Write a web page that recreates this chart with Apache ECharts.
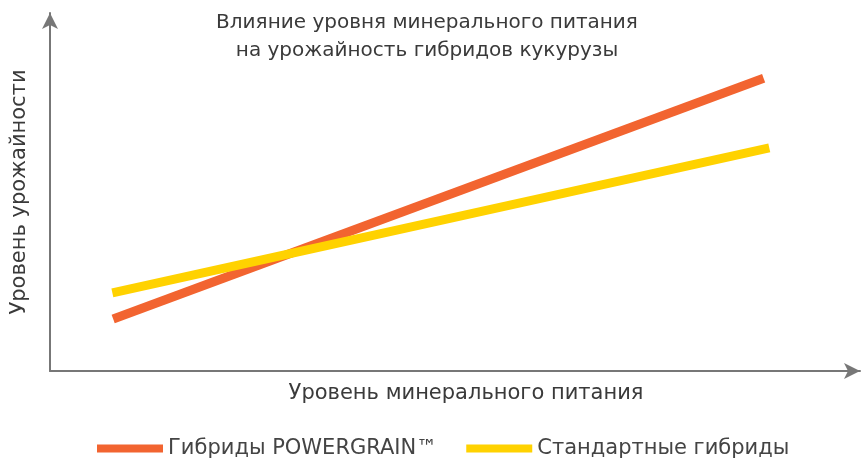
<!DOCTYPE html>
<html><head><meta charset="utf-8">
<script src="https://cdn.jsdelivr.net/npm/echarts@6/dist/echarts.min.js"></script>
<style>html,body{margin:0;padding:0;background:#fff}#c{width:863px;height:458px}</style>
</head><body><div id="c"></div>
<script>
var titleLines = ['Влияние уровня минерального питания', 'на урожайность гибридов кукурузы'];
var xName = 'Уровень минерального питания';
var yName = 'Уровень урожайности';
var seriesNames = ['Гибриды POWERGRAIN™', 'Стандартные гибриды'];
var powergrainData = [[7.8, 14.5], [88.1, 81.8]];
var standardData = [[7.7, 21.8], [88.8, 62.3]];
var colors = ['#f26430', '#ffd200'];

var font = 'DejaVu Sans, Liberation Sans, Arial, sans-serif';
var chart = echarts.init(document.getElementById('c'));
chart.setOption({
  animation: false,
  title: {
    text: titleLines.join('\n'), left: 422, top: 4, textAlign: 'center',
    textStyle: {fontFamily: font, fontSize: 20, fontWeight: 'normal', color: '#3a3a3a', lineHeight: 28}
  },
  legend: {
    top: 433, left: 92, icon: 'rect', itemWidth: 66, itemHeight: 8, itemGap: 29,
    textStyle: {fontFamily: font, fontSize: 21, color: '#444'},
    data: seriesNames
  },
  grid: {left: 50, right: 3, top: 13, bottom: 87, outerBoundsMode: 'none', containLabel: false},
  xAxis: {
    type: 'value', min: 0, max: 100, name: xName, nameLocation: 'middle', nameGap: 12,
    nameTextStyle: {fontFamily: font, fontSize: 21, color: '#3a3a3a', padding: [0, 0, 0, 22]},
    axisLine: {lineStyle: {color: '#777', width: 2}, symbol: ['none', 'arrow'], symbolSize: [12, 16]},
    axisTick: {show: false}, axisLabel: {show: false}, splitLine: {show: false}
  },
  yAxis: {
    type: 'value', min: 0, max: 100, name: yName, nameLocation: 'middle', nameGap: 20,
    nameTextStyle: {fontFamily: font, fontSize: 21, color: '#3a3a3a'},
    axisLine: {lineStyle: {color: '#777', width: 2}, symbol: ['none', 'arrow'], symbolSize: [12, 16]},
    axisTick: {show: false}, axisLabel: {show: false}, splitLine: {show: false}
  },
  series: [
    {name: seriesNames[0], type: 'line', data: powergrainData, symbol: 'none', color: colors[0],
     lineStyle: {width: 9, cap: 'butt'}},
    {name: seriesNames[1], type: 'line', data: standardData, symbol: 'none', color: colors[1],
     lineStyle: {width: 9, cap: 'butt'}}
  ]
});
</script></body></html>
